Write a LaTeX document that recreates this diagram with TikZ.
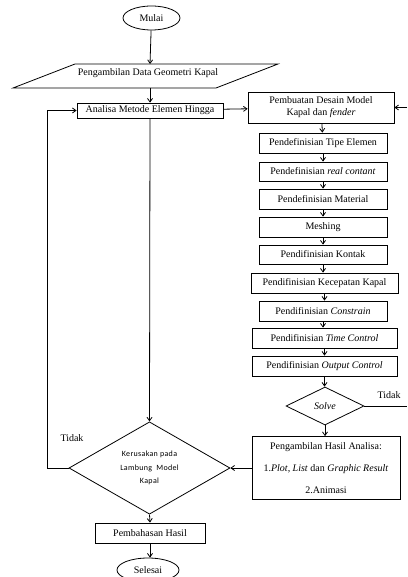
\documentclass[tikz,border=0pt]{standalone}
\usepackage{fontspec}
\setmainfont{Liberation Serif}
\newfontfamily\dsans{Carlito}[LetterSpace=4]
\usetikzlibrary{shapes.geometric,arrows.meta}
\begin{document}
\begin{tikzpicture}[x=1pt,y=-1pt,
  every node/.style={font=\fontsize{10}{12}\selectfont},
  box/.style={draw,line width=0.8pt,inner sep=1pt,align=center},
  oval/.style={draw,ellipse,line width=0.8pt,inner sep=0pt},
  dmd/.style={draw,diamond,line width=0.8pt,inner sep=0pt,align=center},
  conn/.style={line width=0.8pt},
  arr/.style={conn,-{Straight Barb[length=3.5pt,width=5pt]}}]
\useasboundingbox (0,0) rectangle (407,577);
% start
\node[oval,minimum width=57pt,minimum height=24pt] (mulai) at (151.5,18) {Mulai};
% data parallelogram
\draw[line width=0.8pt] (75,64) -- (278,64) -- (216,88) -- (13,88) -- cycle;
\coordinate (dataTop) at (150,64);
\coordinate (dataBot) at (150,88);
\node (data) at (148,73) {Pengambilan Data Geometri Kapal};
% left column
\node[dmd,minimum width=161pt,minimum height=90pt,font=\dsans\fontsize{8}{13.5}\selectfont] (ker) at (149.5,468)
  {Kerusakan pada\\Lambung\ \ Model\\Kapal};
\node[box,minimum width=146pt,minimum height=15pt] (ana) at (150,110.5) {Analisa Metode Elemen Hingga};
\node[box,minimum width=110pt,minimum height=20pt] (bahas) at (150,533) {Pembahasan Hasil};
\node[oval,minimum width=62pt,minimum height=24pt] (selesai) at (148,570) {Selesai};
% right column
\node[box,minimum width=146pt,minimum height=31pt] (pem) at (321,107.5) {Pembuatan Desain Model\\Kapal dan \textit{fender}};
\node[box,minimum width=128pt,minimum height=20pt] (tipe) at (323,143) {Pendefinisian Tipe Elemen};
\node[box,minimum width=128pt,minimum height=19pt] (real) at (323,171.5) {Pendefinisian \textit{real contant}};
\node[box,minimum width=128pt,minimum height=20pt] (mat) at (323,199) {Pendefinisian Material};
\node[box,minimum width=128pt,minimum height=20pt] (mesh) at (323,227) {Meshing};
\node[box,minimum width=128pt,minimum height=19pt] (kon) at (323,254.5) {Pendifinisian Kontak};
\node[box,minimum width=147pt,minimum height=20pt] (kec) at (324.5,283) {Pendifinisian Kecepatan Kapal};
\node[box,minimum width=128pt,minimum height=20pt] (con) at (323,311) {Pendifinisian \textit{Constrain}};
\node[box,minimum width=145pt,minimum height=20pt] (time) at (324.5,338) {Pendifinisian \textit{Time Control}};
\node[box,minimum width=145pt,minimum height=20pt] (outc) at (324.5,366) {Pendifinisian \textit{Output Control}};
\node[dmd,minimum width=78pt,minimum height=38pt] (solve) at (325,406) {\textit{Solve}};
\node[box,minimum width=148pt,minimum height=63pt] (hasil) at (326,468)
  {Pengambilan Hasil Analisa:\\[10pt]1.\textit{Plot, List} dan \textit{Graphic Result}\\[10pt]2.Animasi};
% labels
\node (tidakR) at (389,395) {Tidak};
\node (tidakL) at (72,438) {Tidak};
\coordinate (loopL1) at (47,468);
\coordinate (loopL2) at (47,110.5);
\coordinate (solveEnd) at (407,406);
\coordinate (pemIn) at (407,107.5);
% connectors
\draw[arr] (mulai) -- (dataTop);
\draw[arr] (dataBot) -- (ana);
\draw[arr] (ana) -- (pem);
\draw[arr] (pem) -- (tipe);
\draw[arr] (tipe) -- (real);
\draw[arr] (real) -- (mat);
\draw[arr] (mat) -- (mesh);
\draw[arr] (mesh) -- (kon);
\draw[arr] (kon.south) -- (kon.south |- kec.north);
\draw[arr] (kec.south) -- (kec.south |- con.north);
\draw[arr] (con.south) -- (con.south |- time.north);
\draw[arr] (time.south) -- (time.south |- outc.north);
\draw[arr] (outc.south) -- (outc.south |- solve.north);
\draw[arr] (solve.south) -- (solve.south |- hasil.north);
\draw[conn] (solve.east) -- (solveEnd);
\draw[arr] (pemIn) -- (pem.east);
\draw[arr] (hasil.west) -- (ker.east);
\draw[arr] (ana.south) -- (ker.north);
\draw[arr] (ker.west) -- (loopL1) -- (loopL2) -- (ana.west);
\draw[arr] (ker.south) -- (bahas.north);
\draw[arr] (bahas.south) -- (bahas.south |- selesai.north);
\end{tikzpicture}
\end{document}
